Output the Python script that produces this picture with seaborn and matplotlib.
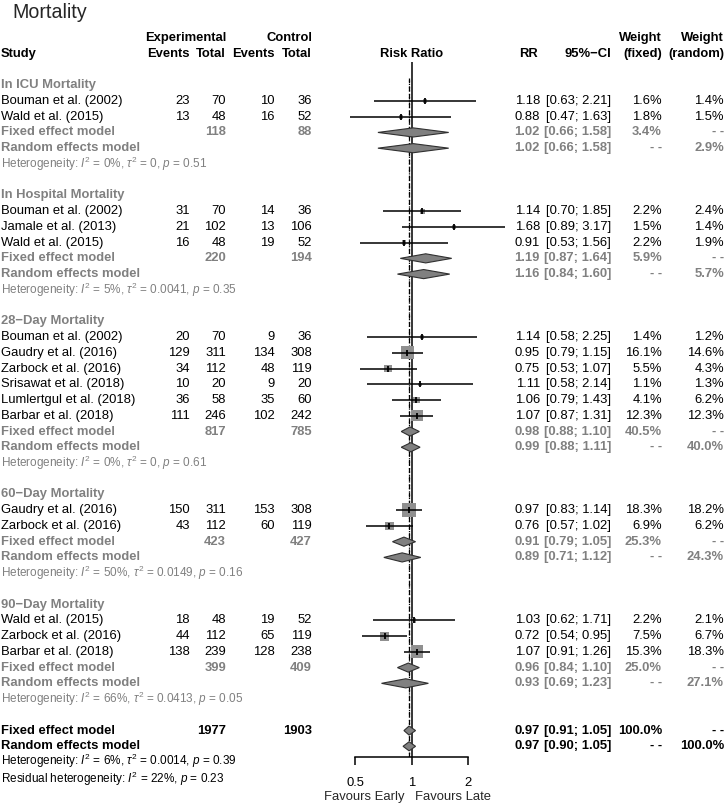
import matplotlib
matplotlib.use("Agg")
import matplotlib.pyplot as plt
from matplotlib.ticker import NullLocator
import seaborn as sns
import numpy as np

# Study level data
group_names = ["In ICU Mortality", "In Hospital Mortality", "28\u2212Day Mortality",
               "60\u2212Day Mortality", "90\u2212Day Mortality"]
study_group = [0, 0, 1, 1, 1, 2, 2, 2, 2, 2, 2, 3, 3, 4, 4, 4]
study_names = ["Bouman et al. (2002)", "Wald et al. (2015)",
               "Bouman et al. (2002)", "Jamale et al. (2013)", "Wald et al. (2015)",
               "Bouman et al. (2002)", "Gaudry et al. (2016)", "Zarbock et al. (2016)",
               "Srisawat et al. (2018)", "Lumlertgul et al. (2018)", "Barbar et al. (2018)",
               "Gaudry et al. (2016)", "Zarbock et al. (2016)",
               "Wald et al. (2015)", "Zarbock et al. (2016)", "Barbar et al. (2018)"]
exp_events = [23, 13, 31, 21, 16, 20, 129, 34, 10, 36, 111, 150, 43, 18, 44, 138]
exp_total = [70, 48, 70, 102, 48, 70, 311, 112, 20, 58, 246, 311, 112, 48, 112, 239]
ctrl_events = [10, 16, 14, 13, 19, 9, 134, 48, 9, 35, 102, 153, 60, 19, 65, 128]
ctrl_total = [36, 52, 36, 106, 52, 36, 308, 119, 20, 60, 242, 308, 119, 52, 119, 238]
rr = [1.18, 0.88, 1.14, 1.68, 0.91, 1.14, 0.95, 0.75, 1.11, 1.06, 1.07, 0.97, 0.76, 1.03, 0.72, 1.07]
ci_lo = [0.63, 0.47, 0.70, 0.89, 0.53, 0.58, 0.79, 0.53, 0.58, 0.79, 0.87, 0.83, 0.57, 0.62, 0.54, 0.91]
ci_hi = [2.21, 1.63, 1.85, 3.17, 1.56, 2.25, 1.15, 1.07, 2.14, 1.43, 1.31, 1.14, 1.02, 1.71, 0.95, 1.26]
w_fixed = [1.6, 1.8, 2.2, 1.5, 2.2, 1.4, 16.1, 5.5, 1.1, 4.1, 12.3, 18.3, 6.9, 2.2, 7.5, 15.3]
w_random = [1.4, 1.5, 2.4, 1.4, 1.9, 1.2, 14.6, 4.3, 1.3, 6.2, 12.3, 18.2, 6.2, 2.1, 6.7, 18.3]

# Subgroup summaries
grp_exp_total = [118, 220, 817, 423, 399]
grp_ctrl_total = [88, 194, 785, 427, 409]
grp_fixed = [1.02, 1.19, 0.98, 0.91, 0.96]
grp_fixed_lo = [0.66, 0.87, 0.88, 0.79, 0.84]
grp_fixed_hi = [1.58, 1.64, 1.10, 1.05, 1.10]
grp_fixed_w = [3.4, 5.9, 40.5, 25.3, 25.0]
grp_random = [1.02, 1.16, 0.99, 0.89, 0.93]
grp_random_lo = [0.66, 0.84, 0.88, 0.71, 0.69]
grp_random_hi = [1.58, 1.60, 1.11, 1.12, 1.23]
grp_random_w = [2.9, 5.7, 40.0, 24.3, 27.1]
het_i2 = [0, 5, 0, 50, 66]
het_tau2 = ["0", "0.0041", "0", "0.0149", "0.0413"]
het_p = ["0.51", "0.35", "0.61", "0.16", "0.05"]

# Overall
all_exp_total, all_ctrl_total = 1977, 1903
all_fixed = [0.97, 0.91, 1.05]
all_random = [0.97, 0.90, 1.05]
all_het = ["6", "0.0014", "0.39"]
resid_het = ["22", "0.23"]

sns.set_theme(style="white")
plt.rcParams["font.family"] = ["Liberation Sans", "DejaVu Sans"]
plt.rcParams["mathtext.fontset"] = "custom"
plt.rcParams["mathtext.rm"] = "Liberation Sans"
plt.rcParams["mathtext.it"] = "Liberation Sans:italic"

W, H = 725, 805
ROW0, ROW_H = 38, 15.74
FS, FS_HET = 9.4, 8.5
GRAY = "#808080"
NA = "- -"

fig = plt.figure(figsize=(W / 100, H / 100), dpi=100)
tax = fig.add_axes([0, 0, 1, 1])
tax.set_xlim(0, W)
tax.set_ylim(H, 0)
tax.axis("off")

# forest axes, placed so 0.5 -> 355px, 2 -> 468px
x_lim = (0.4, 3.6)
cx, scale = 411.6, 56.2
left_px = cx + scale * np.log2(x_lim[0])
right_px = cx + scale * np.log2(x_lim[1])
top_px, bot_px = 62, 757
fax = fig.add_axes([left_px / W, 1 - bot_px / H, (right_px - left_px) / W, (bot_px - top_px) / H])
fax.set_xscale("log", base=2)
fax.set_xlim(*x_lim)
fax.set_ylim((bot_px - ROW0) / ROW_H, (top_px - ROW0) / ROW_H)
fax.patch.set_alpha(0)


def ty(row):
    return ROW0 + ROW_H * row


def put(x, row, s, ha="right", color="black", weight="normal", size=FS):
    tax.text(x, ty(row), s, ha=ha, va="center", color=color, fontweight=weight, fontsize=size)


COLS = dict(ee=190, et=226, ce=275, ct=312, rr=540, ci=611, wf=662, wr=724)

# title + header
tax.text(12, 12, "Mortality", ha="left", va="center", fontsize=14.1)
put(1, 1, "Study", ha="left", weight="bold")
put(COLS["et"], 0, "Experimental", weight="bold")
put(COLS["ee"], 1, "Events", weight="bold")
put(COLS["et"], 1, "Total", weight="bold")
put(COLS["ct"], 0, "Control", weight="bold")
put(COLS["ce"], 1, "Events", weight="bold")
put(COLS["ct"], 1, "Total", weight="bold")
put(412, 1, "Risk Ratio", ha="center", weight="bold")
put(538, 1, "RR", weight="bold")
put(COLS["ci"], 1, "95%\u2212CI", weight="bold")
put(COLS["wf"], 0, "Weight", weight="bold")
put(COLS["wf"], 1, "(fixed)", weight="bold")
put(COLS["wr"], 0, "Weight", weight="bold")
put(COLS["wr"], 1, "(random)", weight="bold")


def diamond(row, est, lo, hi, half=0.29):
    fax.fill([lo, est, hi, est], [row, row - half, row, row + half],
             facecolor=GRAY, edgecolor="#303030", lw=0.8, zorder=3)


study_rows = []
row = 3
for g, gname in enumerate(group_names):
    put(1, row, gname, ha="left", color=GRAY, weight="bold")
    row += 1
    for i, sg in enumerate(study_group):
        if sg != g:
            continue
        study_rows.append(row)
        put(1, row, study_names[i], ha="left")
        put(COLS["ee"], row, str(exp_events[i]))
        put(COLS["et"], row, str(exp_total[i]))
        put(COLS["ce"], row, str(ctrl_events[i]))
        put(COLS["ct"], row, str(ctrl_total[i]))
        put(COLS["rr"], row, f"{rr[i]:.2f}")
        put(COLS["ci"], row, f"[{ci_lo[i]:.2f}; {ci_hi[i]:.2f}]")
        put(COLS["wf"], row, f"{w_fixed[i]:.1f}%")
        put(COLS["wr"], row, f"{w_random[i]:.1f}%")
        row += 1
    # fixed
    put(1, row, "Fixed effect model", ha="left", color=GRAY, weight="bold")
    put(COLS["et"], row, str(grp_exp_total[g]), color=GRAY, weight="bold")
    put(COLS["ct"], row, str(grp_ctrl_total[g]), color=GRAY, weight="bold")
    put(COLS["rr"], row, f"{grp_fixed[g]:.2f}", color=GRAY, weight="bold")
    put(COLS["ci"], row, f"[{grp_fixed_lo[g]:.2f}; {grp_fixed_hi[g]:.2f}]", color=GRAY, weight="bold")
    put(COLS["wf"], row, f"{grp_fixed_w[g]:.1f}%", color=GRAY, weight="bold")
    put(COLS["wr"], row, NA, color=GRAY, weight="bold")
    diamond(row, grp_fixed[g], grp_fixed_lo[g], grp_fixed_hi[g])
    row += 1
    # random
    put(1, row, "Random effects model", ha="left", color=GRAY, weight="bold")
    put(COLS["rr"], row, f"{grp_random[g]:.2f}", color=GRAY, weight="bold")
    put(COLS["ci"], row, f"[{grp_random_lo[g]:.2f}; {grp_random_hi[g]:.2f}]", color=GRAY, weight="bold")
    put(COLS["wf"], row, NA, color=GRAY, weight="bold")
    put(COLS["wr"], row, f"{grp_random_w[g]:.1f}%", color=GRAY, weight="bold")
    diamond(row, grp_random[g], grp_random_lo[g], grp_random_hi[g])
    row += 1
    put(1, row, f"Heterogeneity: $I^2$ = {het_i2[g]}%, $\\tau^2$ = {het_tau2[g]}, $p$ = {het_p[g]}",
        ha="left", color=GRAY, size=FS_HET)
    row += 2

# overall
put(1, row, "Fixed effect model", ha="left", weight="bold")
put(COLS["et"], row, str(all_exp_total), weight="bold")
put(COLS["ct"], row, str(all_ctrl_total), weight="bold")
put(COLS["rr"], row, f"{all_fixed[0]:.2f}", weight="bold")
put(COLS["ci"], row, f"[{all_fixed[1]:.2f}; {all_fixed[2]:.2f}]", weight="bold")
put(COLS["wf"], row, "100.0%", weight="bold")
put(COLS["wr"], row, NA, weight="bold")
diamond(row, *all_fixed)
row += 1
put(1, row, "Random effects model", ha="left", weight="bold")
put(COLS["rr"], row, f"{all_random[0]:.2f}", weight="bold")
put(COLS["ci"], row, f"[{all_random[1]:.2f}; {all_random[2]:.2f}]", weight="bold")
put(COLS["wf"], row, NA, weight="bold")
put(COLS["wr"], row, "100.0%", weight="bold")
diamond(row, *all_random)
row += 1
put(1, row - 0.05, f"Heterogeneity: $I^2$ = {all_het[0]}%, $\\tau^2$ = {all_het[1]}, $p$ = {all_het[2]}",
    ha="left", size=FS_HET)
row += 1
put(1, row + 0.08, f"Residual heterogeneity: $I^2$ = {resid_het[0]}%, $p$ = {resid_het[1]}",
    ha="left", size=FS_HET)

# reference lines
fax.axvline(1, color="black", lw=1.1, zorder=1)
dash_top = 1 - (78 - top_px) / (bot_px - top_px)
fax.axvline(all_fixed[0], ymax=dash_top, color="black", lw=0.9, ls=(0, (4, 2.5)), zorder=1)
fax.axvline(all_random[0], ymax=dash_top, color="black", lw=0.9, ls=":", zorder=1)

# study CIs and squares
fax.hlines(study_rows, ci_lo, ci_hi, color="black", lw=1.1, zorder=4)
side_pt = 3.27 * np.sqrt(w_fixed) * 0.72
sns.scatterplot(x=rr, y=study_rows, ax=fax, marker="s", s=side_pt ** 2,
                color="#909090", edgecolor="none", linewidth=0, zorder=3, legend=False)
fax.plot(rr, study_rows, ls="none", marker="|", ms=4, mew=1.3, color="black", zorder=5)

# axis
for side in ["top", "left", "right"]:
    fax.spines[side].set_visible(False)
fax.spines["bottom"].set_bounds(0.5, 2)
fax.spines["bottom"].set_color("black")
fax.spines["bottom"].set_linewidth(1.1)
fax.set_yticks([])
fax.set_xticks([0.5, 1, 2])
fax.set_xticklabels(["0.5", "1", "2"])
fax.xaxis.set_minor_locator(NullLocator())
fax.tick_params(axis="x", bottom=True, direction="out", length=5.5, width=1.1,
                labelsize=FS, pad=9, colors="black")
fax.set_xlabel("")
fax.set_ylabel("")
tax.text(405, 797, "Favours Early", ha="right", va="center", fontsize=FS)
tax.text(415, 797, "Favours Late", ha="left", va="center", fontsize=FS)

fig.savefig("out.png", dpi=100)
